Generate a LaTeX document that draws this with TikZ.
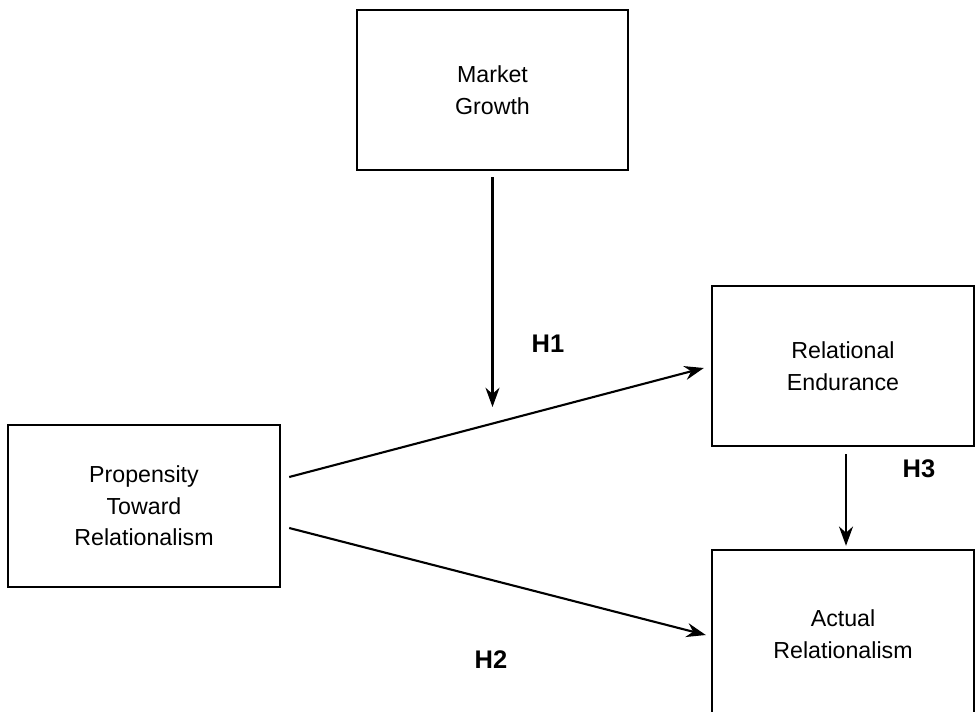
\documentclass[tikz,border=0pt]{standalone}
\usepackage{fontspec}
\setmainfont{Liberation Sans}
\usetikzlibrary{arrows.meta}
\tikzstyle{construct}=[draw, rectangle, line width=1.4pt, align=center,
                  inner sep=0pt, font=\fontsize{13.2}{18}\selectfont]
\tikzstyle{link}=[line width=1.2pt, -{Stealth[length=11pt,width=8pt]}]
\tikzstyle{hyp}=[font=\fontsize{14.5}{16}\bfseries\selectfont]

\begin{document}
\begin{tikzpicture}[x=0.02cm, y=-0.02cm, thick]
      \useasboundingbox (0,0) rectangle (976,712);
      \clip (0,0) rectangle (976,712);
      % Place the constructs
      \foreach \place/\name/\boxw/\boxh/\txt in {{(492.5,90)/mg/5.42/3.2/{Market\\Growth}},
          {(144,506)/prop/5.44/3.24/{Propensity\\Toward\\Relationalism}},
          {(843,366)/endu/5.24/3.2/{Relational\\Endurance}},
          {(843,634)/act/5.24/3.36/{Actual\\Relationalism}}}
        \node[construct, minimum width=\boxw cm, minimum height=\boxh cm] (\name) at \place {\txt};
      %
      % Moderating effect of market growth
      \coordinate (h1tip) at (492.5,407);
      \draw[link] ([yshift=-0.12cm]mg.south) -- (h1tip);
      %
      % Main paths
      \draw[link] ([shift={(8,-29)}]prop.east) -- ([shift={(-7,2)}]endu.west);
      \draw[link] ([shift={(8,22)}]prop.east) -- ([shift={(-5,1)}]act.west);
      \draw[link] ([shift={(3,7)}]endu.south) -- ([shift={(3,-3)}]act.north);
      %
      % Hypotheses
      \foreach \place/\name/\txt in {{(548,344)/h1/H1}, {(491,660)/h2/H2}, {(919,469)/h3/H3}}
        \node[hyp] (\name) at \place {\txt};
    \end{tikzpicture}
\end{document}
